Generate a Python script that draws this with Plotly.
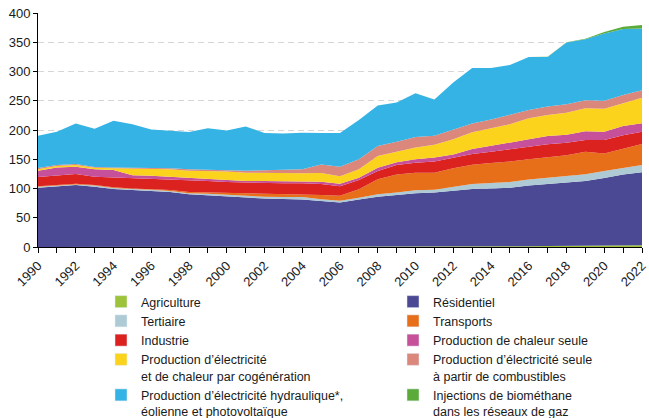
import plotly.graph_objects as go

years = list(range(1990, 2023))

agriculture = [0]*18 + [0.2, 0.3, 0.5, 0.6, 0.7, 0.8, 0.9, 1.0, 1.2, 1.5, 1.8, 2.0, 2.2, 2.5, 3.0]
residentiel = [101.4, 104, 106, 103, 99, 97.4, 96, 94, 90, 88, 86, 85, 83, 82, 81, 78.6, 76, 81,
               85.8, 88.7, 91.5, 92.4, 95.3, 98.2, 99.1, 100.4, 103.8, 106.2, 108.7, 111, 115.8, 121.5, 124.6]
tertiaire = [1.6, 1.4, 1, 2, 2, 1.6, 2, 1.7, 2, 3, 3, 3, 3, 3.5, 4.5, 2.9, 3, 3,
             4, 4, 5, 5, 7, 8.5, 9.5, 9.6, 10.2, 10.8, 10.9, 11.5, 12, 11.5, 12.4]
transports = [1, 1.1, 1, 1, 1, 1, 1, 1.7, 2, 2.4, 3, 4, 4.6, 4.5, 4, 7.5, 8.5, 14.6,
              26, 31, 30, 29, 31.5, 33.2, 34.1, 35, 34.8, 35.5, 35.6, 38.5, 30, 32.5, 36]
industrie = [15.7, 16, 17, 14, 17, 17, 17, 18.3, 20, 19.6, 19, 18, 19.4, 19, 19.5, 18.7, 16.5, 15.9,
             14, 16, 17, 19, 18.2, 18.3, 19.4, 21, 21.5, 21.5, 21, 20, 23, 23, 21]
chaleur_seule = [10.8, 13.5, 12, 13, 12.6, 5.5, 6, 4.3, 4, 3, 3.5, 3, 3, 4, 3, 4, 4, 4,
                 5.6, 5, 6, 7, 5.3, 8.5, 9.6, 11, 12.5, 14.2, 14, 15, 14, 16, 14.5]
cogeneration = [2.5, 2.5, 3, 2.6, 2.9, 11.5, 11, 13, 12.5, 14, 14.5, 14, 13.5, 13, 14, 14.8, 13, 14.5,
                20, 18, 20, 22, 26, 28.5, 30.4, 32, 36, 35.9, 37.6, 39, 39.5, 39, 43.5]
elec_seule = [2, 1.5, 2, 1.2, 1.5, 1.6, 1.5, 1.5, 2.5, 2, 2.6, 3.5, 4.5, 5.6, 6.8, 14.5, 16, 17,
              17, 17, 18, 15, 16, 15, 15, 15.6, 14, 14.4, 14.4, 14, 13.5, 14, 13]
hydro_eol_pv = [55, 57, 69, 65.2, 80, 74.4, 66.5, 64.5, 63.6, 71, 67.4, 75.5, 64, 62.4, 62.6, 54, 58, 67,
                69.4, 67, 75, 62, 81, 95, 88, 85.4, 91, 85, 105.5, 104, 115, 112.6, 105.5]
biomethane = [0]*27 + [0.2, 0.5, 1, 2.5, 4, 6]

series_names = [
    "Agriculture",
    "Résidentiel",
    "Tertiaire",
    "Transports",
    "Industrie",
    "Production de chaleur seule",
    "Production d\u2019électricité<br>et de chaleur par cogénération",
    "Production d\u2019électricité seule<br>à partir de combustibles",
    "Production d\u2019électricité hydraulique*,<br>éolienne et photovoltaïque",
    "Injections de biométhane<br>dans les réseaux de gaz",
]
series_values = [agriculture, residentiel, tertiaire, transports, industrie,
                 chaleur_seule, cogeneration, elec_seule, hydro_eol_pv, biomethane]
colors = ["#9dc33b", "#4b4993", "#adcad5", "#e86f1a", "#dc221f",
          "#c6519a", "#fbd31d", "#dc877c", "#35b3e4", "#5bab3a"]

y_ticks = list(range(0, 401, 50))
x_ticks = list(range(1990, 2023, 2))

fig = go.Figure()
for name, vals, col in zip(series_names, series_values, colors):
    fig.add_trace(go.Scatter(
        x=years, y=vals, stackgroup="one", mode="lines",
        line=dict(width=0, color=col), fillcolor=col,
        showlegend=False, hoverinfo="x+y+name", name=name,
    ))
for name, col in zip(series_names, colors):
    fig.add_trace(go.Bar(x=[None], y=[None], name=name, marker_color=col, showlegend=True))

font_family = "Liberation Sans, Arial, sans-serif"
fig.update_layout(
    width=649, height=418,
    margin=dict(l=38, r=7, t=13, b=171, autoexpand=False),
    plot_bgcolor="white", paper_bgcolor="white",
    font=dict(family=font_family, size=13, color="#1a1a1a"),
    showlegend=True,
    legend=dict(
        orientation="h", xref="container", yref="container",
        x=101/649, y=1 - 287/418, xanchor="left", yanchor="top",
        entrywidth=247, entrywidthmode="pixels",
        font=dict(size=12.5, color="#1a1a1a"), valign="top",
        traceorder="normal", bgcolor="rgba(0,0,0,0)",
    ),
    xaxis=dict(
        range=[1990, 2022], tickvals=x_ticks, ticktext=[str(v) for v in x_ticks],
        tickangle=-45, showgrid=False, zeroline=False,
        showline=True, linecolor="black", linewidth=1,
        ticks="outside", ticklen=5, tickcolor="black",
        minor=dict(dtick=1, tick0=1990, ticks="outside", ticklen=5, tickcolor="black", showgrid=False),
        tickfont=dict(size=13, color="#1a1a1a"),
    ),
    yaxis=dict(
        range=[0, 400], tickvals=y_ticks, showgrid=True, gridcolor="#d6d6d6",
        griddash="6px,4px", gridwidth=1, zeroline=False,
        showline=True, linecolor="black", linewidth=1,
        ticks="outside", ticklen=4, tickcolor="black",
        tickfont=dict(size=13, color="#1a1a1a"),
    ),
)

fig.write_html(
    "out.html",
    config={"displayModeBar": False},
    post_script="document.body.style.margin='0';document.body.style.overflow='hidden';",
)
